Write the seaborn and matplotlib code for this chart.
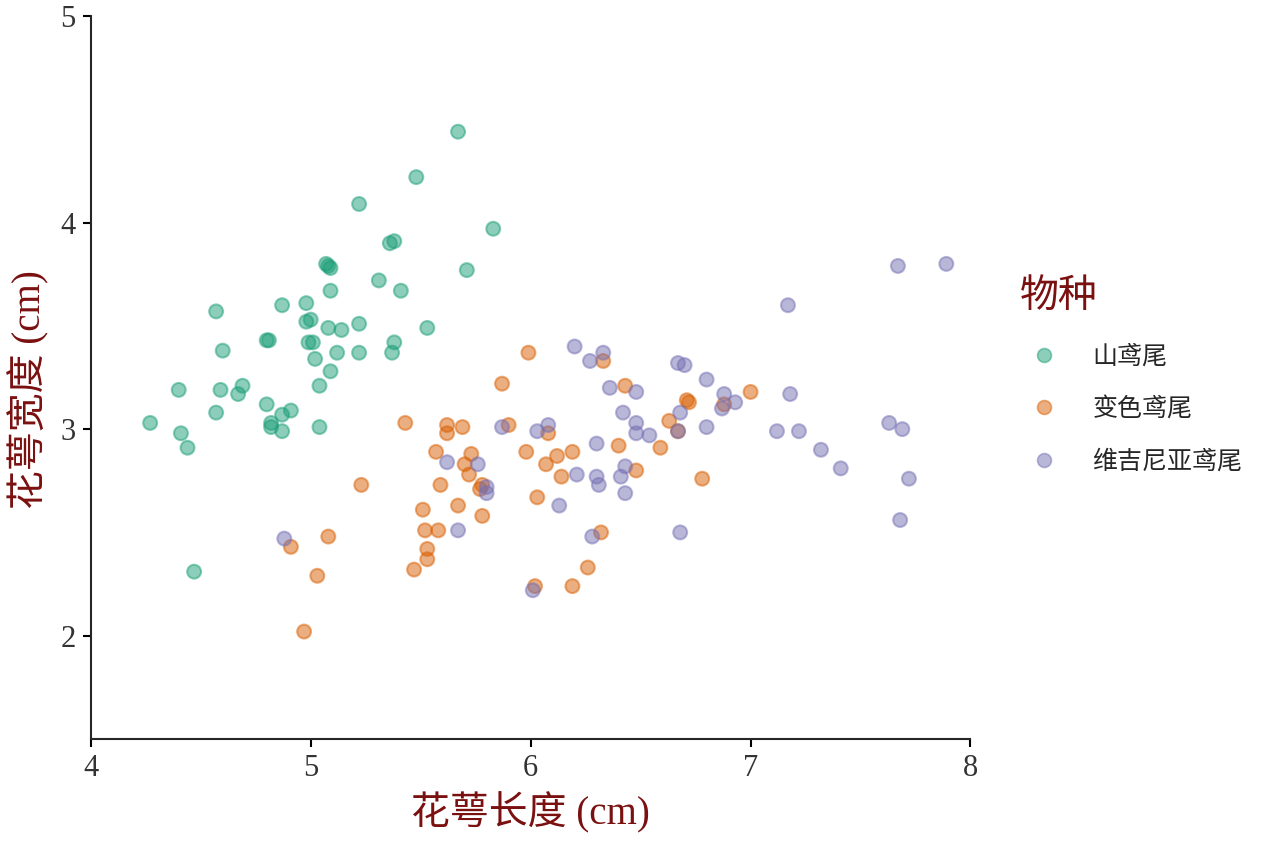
import numpy as np
import pandas as pd
import seaborn as sns
import matplotlib.pyplot as plt

setosa_len = [5.67, 5.48, 5.22, 5.83, 5.36, 5.38, 5.07, 5.08, 5.09, 5.71,
              5.31, 5.09, 5.41, 4.57, 4.87, 4.98, 4.98, 5.00, 5.08, 5.14,
              5.22, 5.53, 4.80, 4.81, 4.99, 5.01, 5.38, 5.37, 4.60, 5.12,
              5.22, 5.02, 5.09, 4.40, 4.59, 4.69, 4.67, 5.04, 4.80, 4.57,
              4.87, 4.91, 4.82, 4.82, 4.87, 4.27, 4.41, 4.44, 5.04, 4.47]
setosa_wid = [4.44, 4.22, 4.09, 3.97, 3.90, 3.91, 3.80, 3.79, 3.78, 3.77,
              3.72, 3.67, 3.67, 3.57, 3.60, 3.61, 3.52, 3.53, 3.49, 3.48,
              3.51, 3.49, 3.43, 3.43, 3.42, 3.42, 3.42, 3.37, 3.38, 3.37,
              3.37, 3.34, 3.28, 3.19, 3.19, 3.21, 3.17, 3.21, 3.12, 3.08,
              3.07, 3.09, 3.03, 3.01, 2.99, 3.03, 2.98, 2.91, 3.01, 2.31]

versicolor_len = [5.99, 5.87, 6.43, 6.33, 5.90, 5.62, 5.62, 5.69, 6.08, 5.57,
                  5.98, 6.19, 6.40, 5.73, 5.70, 6.12, 6.07, 5.72, 6.14, 5.59,
                  5.78, 5.77, 6.03, 5.51, 5.67, 5.78, 5.52, 5.58, 6.32, 5.53,
                  5.53, 5.47, 6.26, 6.02, 6.19, 6.48, 5.08, 4.91, 5.03, 4.97,
                  5.23, 5.43, 6.71, 6.72, 7.00, 6.63, 6.67, 6.59, 6.78, 6.88]
versicolor_wid = [3.37, 3.22, 3.21, 3.33, 3.02, 3.02, 2.98, 3.01, 2.98, 2.89,
                  2.89, 2.89, 2.92, 2.88, 2.83, 2.87, 2.83, 2.78, 2.77, 2.73,
                  2.73, 2.71, 2.67, 2.61, 2.63, 2.58, 2.51, 2.51, 2.50, 2.42,
                  2.37, 2.32, 2.33, 2.24, 2.24, 2.80, 2.48, 2.43, 2.29, 2.02,
                  2.73, 3.03, 3.14, 3.13, 3.18, 3.04, 2.99, 2.91, 2.76, 3.12]

virginica_len = [6.20, 6.27, 6.33, 6.36, 6.48, 6.42, 6.48, 6.48, 5.87, 6.03,
                 6.08, 6.30, 5.62, 5.76, 6.21, 6.30, 6.31, 6.43, 6.41, 5.80,
                 5.80, 6.43, 6.13, 5.67, 6.28, 6.01, 4.88, 6.67, 6.70, 6.80,
                 6.68, 6.88, 6.93, 6.87, 6.54, 6.67, 6.80, 7.12, 7.22, 7.18,
                 6.68, 7.67, 7.89, 7.17, 7.32, 7.41, 7.63, 7.69, 7.72, 7.68]
virginica_wid = [3.40, 3.33, 3.37, 3.20, 3.18, 3.08, 3.03, 2.98, 3.01, 2.99,
                 3.02, 2.93, 2.84, 2.83, 2.78, 2.77, 2.73, 2.82, 2.77, 2.72,
                 2.69, 2.69, 2.63, 2.51, 2.48, 2.22, 2.47, 3.32, 3.31, 3.24,
                 3.08, 3.17, 3.13, 3.10, 2.97, 2.99, 3.01, 2.99, 2.99, 3.17,
                 2.50, 3.79, 3.80, 3.60, 2.90, 2.81, 3.03, 3.00, 2.76, 2.56]

species = ['山鸢尾', '变色鸢尾', '维吉尼亚鸢尾']

df = pd.DataFrame({
    'sepal_length': setosa_len + versicolor_len + virginica_len,
    'sepal_width': setosa_wid + versicolor_wid + virginica_wid,
    'species': [species[0]] * len(setosa_len) + [species[1]] * len(versicolor_len)
               + [species[2]] * len(virginica_len),
})

sns.set_style('ticks')
plt.rcParams['font.family'] = ['Liberation Serif', 'Noto Sans CJK SC', 'DejaVu Sans']

label_color = '#7a1010'
cjk = ['Noto Sans CJK SC', 'DejaVu Sans']
colors = ['#1b9e77', '#d95f02', '#7570b3']
palette = dict(zip(species, colors))

fig = plt.figure(figsize=(12.64, 8.43), dpi=100)
ax = fig.add_axes([0.0718, 0.1234, 0.696, 0.8576])

sns.scatterplot(data=df, x='sepal_length', y='sepal_width', hue='species',
                hue_order=species, palette=palette, s=100, alpha=0.5,
                linewidth=1.5, ax=ax)

# edge colour same as fill
for coll in ax.collections:
    coll.set_edgecolor(coll.get_facecolor())

ax.set_xlim(4, 8)
ax.set_ylim(1.5, 5)
ax.set_xticks([4, 5, 6, 7, 8])
ax.set_yticks([2, 3, 4, 5])
sns.despine(ax=ax)
for sp in ['left', 'bottom']:
    ax.spines[sp].set_linewidth(1.5)
ax.tick_params(axis='both', labelsize=22, width=1.5, length=6, pad=5,
               colors='black', labelcolor='#333333')

ax.set_xlabel('花萼长度 (cm)', fontsize=28, color=label_color)
ax.set_ylabel('花萼宽度 (cm)', fontsize=28, color=label_color)
ax.xaxis.set_label_coords(0.5, -0.073)
ax.yaxis.set_label_coords(-0.047, 0.483)

# move the legend outside the axes, to the right
handles, labels = ax.get_legend_handles_labels()
ax.get_legend().remove()
leg = fig.legend(handles, labels, title='物种', frameon=False,
                 loc='upper left', bbox_to_anchor=(1020 / 1264, 1 - 276 / 843),
                 prop={'family': cjk, 'size': 18},
                 labelspacing=1.05, handlelength=1.9, handletextpad=1.0,
                 borderpad=0, borderaxespad=0)
leg.get_title().set_color(label_color)
leg.get_title().set_fontsize(28)
leg.get_title().set_family(cjk)
leg._legend_box.align = 'left'
leg._legend_box.sep = 20
for h, c in zip(leg.legend_handles, colors):
    h.set_markersize(10)
    h.set_markerfacecolor(c)
    h.set_markeredgecolor(c)
    h.set_markeredgewidth(1.2)
    h.set_alpha(0.5)

fig.savefig('out.png', dpi=100)
